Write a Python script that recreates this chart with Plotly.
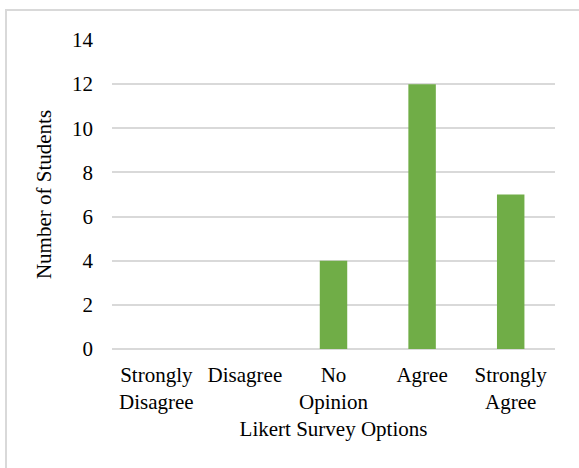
import plotly.graph_objects as go

categories = ["Strongly<br>Disagree", "Disagree", "No<br>Opinion", "Agree", "Strongly<br>Agree"]
students = [0, 0, 4, 12, 7]
y_ticks = [0, 2, 4, 6, 8, 10, 12, 14]

FONT = "Liberation Serif, Times New Roman, serif"
W, H = 579, 468
L, R, T, B = 112, 24, 40, 119
pw, ph = W - L - R, H - T - B

fig = go.Figure(go.Bar(
    x=categories, y=students,
    marker=dict(color="#70AD47", line=dict(width=0)),
    width=0.31,
))

def px_to_paper_x(px):
    return (px - L) / pw

def px_to_paper_y(py):
    return (H - B - py) / ph

fig.add_shape(type="rect", xref="paper", yref="paper",
              x0=px_to_paper_x(6), x1=px_to_paper_x(620),
              y0=px_to_paper_y(500), y1=px_to_paper_y(10),
              line=dict(color="#D9D9D9", width=2), fillcolor="rgba(0,0,0,0)", layer="below")

fig.update_layout(
    width=W, height=H,
    margin=dict(l=L, r=R, t=T, b=B),
    paper_bgcolor="white", plot_bgcolor="white",
    font=dict(family=FONT, size=21, color="black"),
    showlegend=False,
    xaxis=dict(
        showgrid=False, showline=False, zeroline=False,
        tickfont=dict(size=21),
        ticklabelstandoff=11,
        title=dict(text="Likert Survey Options", font=dict(size=21), standoff=8),
        ticks="", tickangle=0,
    ),
    yaxis=dict(
        range=[0, 14], tickvals=y_ticks,
        showgrid=True, gridcolor="#D9D9D9", gridwidth=1.5,
        zeroline=True, zerolinecolor="#D9D9D9", zerolinewidth=1.5,
        showline=False, ticks="",
        ticklabelstandoff=18,
        tickfont=dict(size=21),
        title=dict(text="Number of Students", font=dict(size=21), standoff=14),
    ),
)

fig.write_html("out.html")
